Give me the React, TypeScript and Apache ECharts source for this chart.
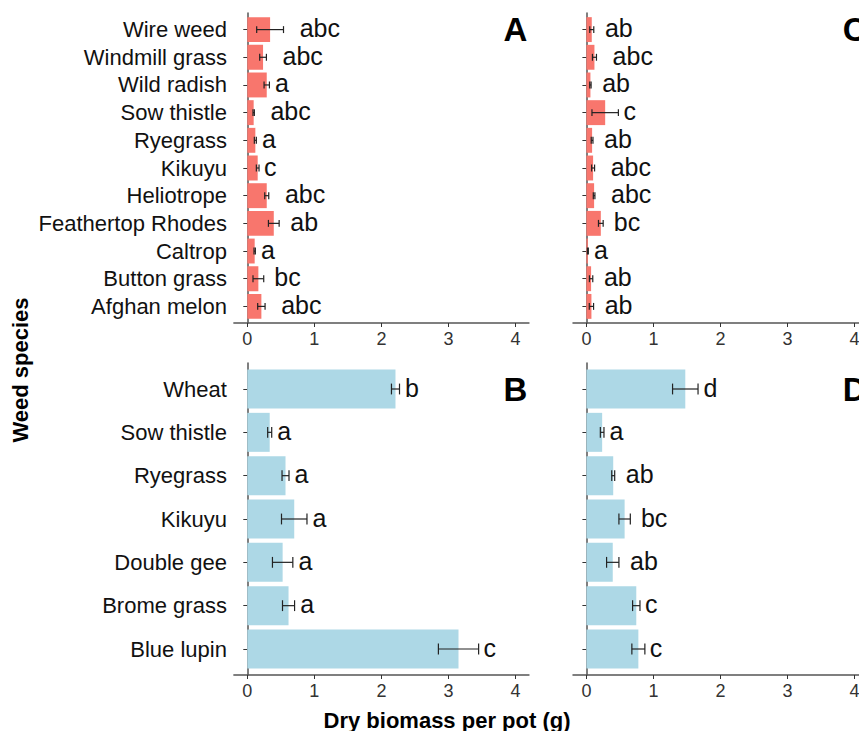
import React, { useEffect, useRef } from "react";
import * as echarts from "echarts";

const speciesTop = ["Wire weed", "Windmill grass", "Wild radish", "Sow thistle", "Ryegrass", "Kikuyu", "Heliotrope", "Feathertop Rhodes", "Caltrop", "Button grass", "Afghan melon"];
const meanA = [0.34, 0.235, 0.29, 0.095, 0.12, 0.155, 0.29, 0.395, 0.11, 0.165, 0.21];
const seA = [0.2, 0.05, 0.04, 0.01, 0.015, 0.02, 0.03, 0.08, 0.01, 0.08, 0.055];
const letA = ["abc", "abc", "a", "abc", "a", "c", "abc", "ab", "a", "bc", "abc"];
const meanC = [0.08, 0.12, 0.06, 0.28, 0.085, 0.1, 0.115, 0.215, 0.022, 0.07, 0.075];
const seC = [0.03, 0.03, 0.01, 0.197, 0.013, 0.022, 0.012, 0.035, 0.007, 0.025, 0.032];
const letC = ["ab", "abc", "ab", "c", "ab", "abc", "abc", "bc", "a", "ab", "ab"];

const speciesBottom = ["Wheat", "Sow thistle", "Ryegrass", "Kikuyu", "Double gee", "Brome grass", "Blue lupin"];
const meanB = [2.21, 0.334, 0.57, 0.7, 0.527, 0.615, 3.15];
const seB = [0.06, 0.03, 0.052, 0.19, 0.152, 0.09, 0.3];
const letB = ["b", "a", "a", "a", "a", "a", "c"];
const meanD = [1.475, 0.235, 0.4, 0.57, 0.393, 0.744, 0.775];
const seD = [0.19, 0.027, 0.022, 0.085, 0.092, 0.055, 0.097];
const letD = ["d", "a", "ab", "bc", "ab", "c", "c"];

const xTicks = [0, 1, 2, 3, 4];
const panelLetters = ["A", "C", "B", "D"];
const xTitle = "Dry biomass per pot (g)";
const yTitle = "Weed species";

const FONT = '"Liberation Sans", Arial, Helvetica, sans-serif';
const RED = "#F8766D";
const BLUE = "#ADD8E6";
const LABEL_SIZE = 25;

let measureCtx: CanvasRenderingContext2D | null = null;
function measure(text: string, size: number): number {
  if (!measureCtx) {
    const c = document.createElement("canvas");
    measureCtx = c.getContext("2d");
  }
  if (!measureCtx) return text.length * size * 0.556;
  measureCtx.font = `${size}px ${FONT}`;
  return measureCtx.measureText(text).width;
}

function makeRender(color: string, labels: string[]) {
  return (params: any, api: any) => {
    const v = api.value(0);
    const y = api.value(1);
    const se = api.value(2);
    const idx = params.dataIndex;
    const p0 = api.coord([0, y]);
    const p1 = api.coord([v, y]);
    const band = api.size([0, 1])[1];
    const h = band * 0.9;
    const lo = api.coord([v - se, y]);
    const hi = api.coord([v + se, y]);
    const cap = (band * 0.25) / 2;
    const text = labels[idx];
    const tw = measure(text, LABEL_SIZE);
    return {
      type: "group",
      children: [
        { type: "rect", shape: { x: p0[0], y: p0[1] - h / 2, width: p1[0] - p0[0], height: h }, style: { fill: color } },
        { type: "line", shape: { x1: lo[0], y1: lo[1], x2: hi[0], y2: hi[1] }, style: { stroke: "#222", lineWidth: 1.2 } },
        { type: "line", shape: { x1: lo[0], y1: lo[1] - cap, x2: lo[0], y2: lo[1] + cap }, style: { stroke: "#222", lineWidth: 1.2 } },
        { type: "line", shape: { x1: hi[0], y1: hi[1] - cap, x2: hi[0], y2: hi[1] + cap }, style: { stroke: "#222", lineWidth: 1.2 } },
        {
          type: "text",
          x: hi[0] + 0.4 * tw,
          y: hi[1] - 1.5,
          style: { text, fontSize: LABEL_SIZE, fontFamily: FONT, fill: "#111", align: "left", verticalAlign: "middle" },
        },
      ],
    };
  };
}

function letterRender(letter: string) {
  return (params: any, api: any) => {
    const p = api.coord([api.value(0), api.value(1)]);
    return {
      type: "text",
      x: p[0],
      y: p[1],
      style: { text: letter, fontSize: 33, fontWeight: "bold", fontFamily: FONT, fill: "#000", align: "center", verticalAlign: "middle" },
    };
  };
}

const CANVAS_W = 880;

export default function App() {
  const ref = useRef<HTMLDivElement>(null);
  useEffect(() => {
    if (!ref.current) return;
    const chart = echarts.init(ref.current, null, { renderer: "svg" });
    const W = CANVAS_W;
    const unit = 67.05;
    const x0L = 247.3;
    const x0R = 586.4;
    const gw = 4.4 * unit;
    const lL = x0L - 0.2 * unit;
    const lR = x0R - 0.2 * unit;
    const grids = [
      { left: lL, top: 13, right: W - (lL + gw), height: 310 },
      { left: lR, top: 13, right: W - (lR + gw), height: 310 },
      { left: lL, top: 363, right: W - (lL + gw), height: 312 },
      { left: lR, top: 363, right: W - (lR + gw), height: 312 },
    ];
    const cats = [speciesTop, speciesTop, speciesBottom, speciesBottom];
    const means = [meanA, meanC, meanB, meanD];
    const ses = [seA, seC, seB, seD];
    const lets = [letA, letC, letB, letD];
    const colors = [RED, RED, BLUE, BLUE];

    const xAxis = grids.map((_, i) => ({
      type: "value",
      gridIndex: i,
      min: -0.2,
      max: 4.2,
      splitLine: { show: false },
      axisLine: { show: true, lineStyle: { color: "#555", width: 1.5 } },
      axisTick: { show: true, customValues: xTicks, length: 4, lineStyle: { color: "#333" } },
      axisLabel: { customValues: xTicks, fontSize: 18, fontFamily: FONT, color: "#333", margin: 7 },
    }));
    const yAxis = grids.map((_, i) => {
      const c = cats[i];
      const vals = c.map((_, k) => k + 1);
      return {
        type: "value",
        gridIndex: i,
        min: 0.4,
        max: c.length + 0.6,
        inverse: true,
        splitLine: { show: false },
        axisLine: { show: true, lineStyle: { color: "#555", width: 1.5 } },
        axisTick: { show: true, customValues: vals, length: 4, lineStyle: { color: "#333" } },
        axisLabel: {
          show: i % 2 === 0,
          customValues: vals,
          fontSize: 22,
          fontFamily: FONT,
          color: "#111",
          margin: 7,
          formatter: (v: number) => c[Math.round(v) - 1] ?? "",
        },
      };
    });
    const series: any[] = [];
    grids.forEach((_, i) => {
      series.push({
        type: "custom",
        xAxisIndex: i,
        yAxisIndex: i,
        clip: false,
        renderItem: makeRender(colors[i], lets[i]),
        encode: { x: 0, y: 1 },
        data: means[i].map((m, k) => [m, k + 1, ses[i][k]]),
      });
      series.push({
        type: "custom",
        xAxisIndex: i,
        yAxisIndex: i,
        clip: false,
        renderItem: letterRender(panelLetters[i]),
        encode: { x: 0, y: 1 },
        data: [[4, 1]],
      });
    });

    chart.setOption({
      animation: false,
      backgroundColor: "#fff",
      grid: grids,
      xAxis,
      yAxis,
      series,
      graphic: [
        {
          type: "text",
          x: 447,
          y: 720,
          style: { text: xTitle, fontSize: 22, fontWeight: "bold", fontFamily: FONT, fill: "#000", align: "center", verticalAlign: "middle" },
        },
        {
          type: "text",
          x: 20,
          y: 370,
          rotation: Math.PI / 2,
          style: { text: yTitle, fontSize: 22, fontWeight: "bold", fontFamily: FONT, fill: "#000", align: "center", verticalAlign: "middle" },
        },
      ],
    });
    return () => chart.dispose();
  }, []);
  return (
    <div style={{ position: "fixed", left: 0, top: 0, width: 859, height: 731, overflow: "hidden", background: "#fff" }}>
      <div ref={ref} style={{ width: CANVAS_W, height: 731 }} />
    </div>
  );
}
